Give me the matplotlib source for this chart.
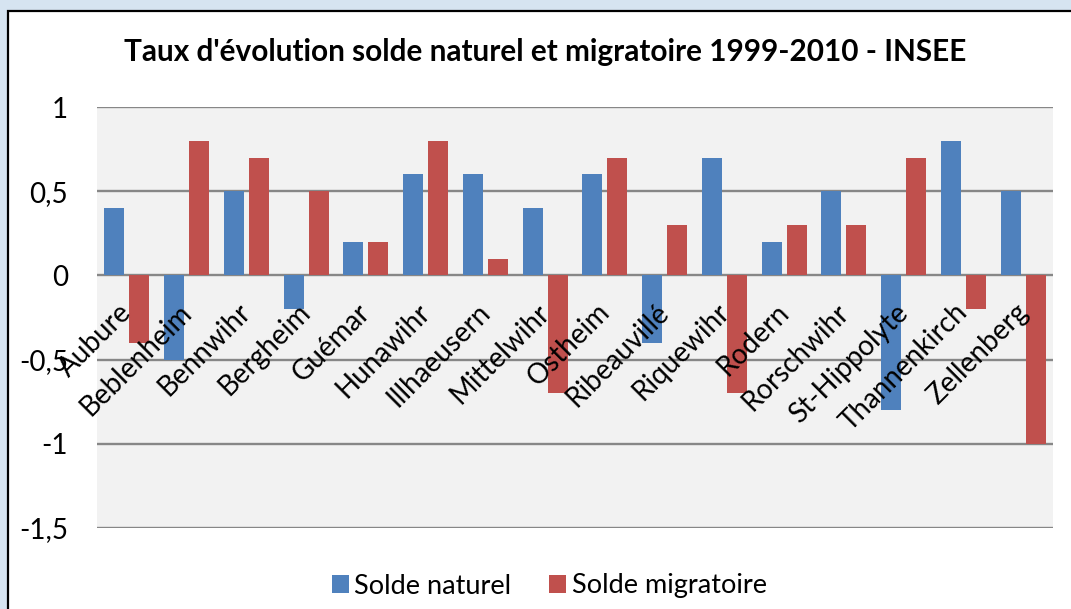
import matplotlib
matplotlib.use('Agg')
import matplotlib.pyplot as plt
from matplotlib.patches import Rectangle
import numpy as np

communes = ["Aubure", "Beblenheim", "Bennwihr", "Bergheim", "Guémar", "Hunawihr",
            "Illhaeusern", "Mittelwihr", "Ostheim", "Ribeauvillé", "Riquewihr",
            "Rodern", "Rorschwihr", "St-Hippolyte", "Thannenkirch", "Zellenberg"]
solde_naturel = [0.4, -0.5, 0.5, -0.2, 0.2, 0.6, 0.6, 0.4, 0.6, -0.4, 0.7, 0.2, 0.5, -0.8, 0.8, 0.5]
solde_migratoire = [-0.4, 0.8, 0.7, 0.5, 0.2, 0.8, 0.1, -0.7, 0.7, 0.3, -0.7, 0.3, 0.3, 0.7, -0.2, -1.0]
yticks = [1, 0.5, 0, -0.5, -1, -1.5]
ytick_labels = ["1", "0,5", "0", "-0,5", "-1", "-1,5"]

plt.rcParams['font.family'] = ['Lato', 'DejaVu Sans']

W, H = 1071, 609
fig = plt.figure(figsize=(W / 100, H / 100), dpi=100, facecolor='#d6e4f1')

# white chart panel with black frame (runs off right and bottom edges)
fig.patches.append(Rectangle((7.5 / W, -0.1), 1.2, (H - 10.5) / H + 0.1,
                             transform=fig.transFigure, facecolor='white',
                             edgecolor='black', linewidth=1.6, zorder=-1))

ax = fig.add_axes([97 / W, 1 - 528 / H, (1053 - 97) / W, (528 - 107) / H])
ax.set_facecolor('#f2f2f2')

x = np.arange(len(communes))
w = 0.335
ax.bar(x - 0.21, solde_naturel, w, color='#4f81bd', label='Solde naturel', zorder=3)
ax.bar(x + 0.21, solde_migratoire, w, color='#c0504d', label='Solde migratoire', zorder=3)

ax.set_xlim(-0.5, len(communes) - 0.5)
ax.set_ylim(-1.5, 1)
ax.set_yticks(yticks)
ax.set_yticklabels(ytick_labels, fontsize=20)
ax.tick_params(axis='y', length=0, pad=21)
ax.set_xticks([])
ax.yaxis.grid(True, color='#878787', linewidth=1.7, zorder=1)
ax.set_axisbelow(True)
for s in ax.spines.values():
    s.set_visible(False)

# category labels sit next to the zero line
for i, name in enumerate(communes):
    ax.annotate(name, xy=(i, 0), xytext=(7, -17), textcoords='offset points',
                rotation=45, ha='right', va='top', fontsize=20, zorder=4)

fig.text(545 / W, 1 - 52 / H, "Taux d'évolution solde naturel et migratoire 1999-2010 - INSEE",
         ha='center', va='center', fontsize=21.4, fontweight='bold')

fig.legend(loc='center', bbox_to_anchor=(549 / W, 1 - 586 / H), ncol=2, frameon=False,
           fontsize=19.5, handlelength=0.63, handleheight=0.63, handletextpad=0.2,
           columnspacing=1.4)

fig.savefig('out.png', dpi=100, facecolor=fig.get_facecolor())
